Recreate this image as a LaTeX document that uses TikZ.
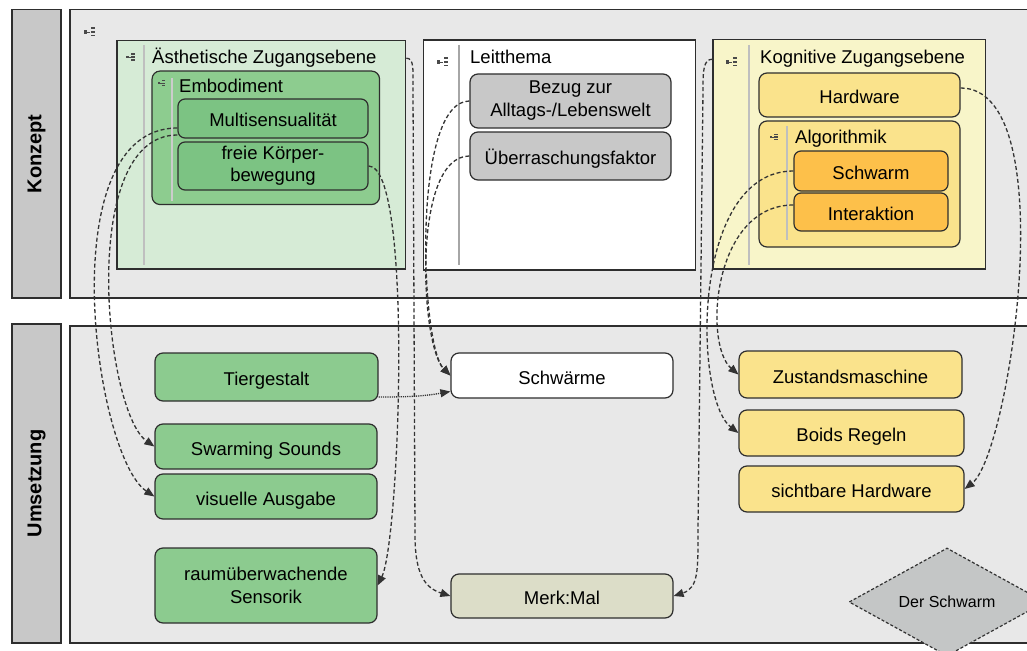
\documentclass[tikz,border=0pt]{standalone}
\usepackage{fontspec}
\setmainfont{Liberation Sans}
\usetikzlibrary{arrows.meta,shapes.geometric}

\definecolor{edge}{HTML}{2E2E2E}
\definecolor{linkcol}{HTML}{333333}
\definecolor{panelfill}{HTML}{E8E8E8}
\definecolor{barfill}{HTML}{C8C8C8}
\definecolor{aesfill}{HTML}{D6EBD6}
\definecolor{embfill}{HTML}{8DCC8F}
\definecolor{greenfill}{HTML}{7CC383}
\definecolor{actfill}{HTML}{8CCB8F}
\definecolor{grayfill}{HTML}{C8C8C8}
\definecolor{kogfill}{HTML}{F8F5C9}
\definecolor{yellowfill}{HTML}{FAE38C}
\definecolor{orangefill}{HTML}{FDC04A}
\definecolor{merkfill}{HTML}{DCDDC8}
\definecolor{diafill}{HTML}{C4C6C6}
\definecolor{iconcol}{HTML}{4A4A4A}

\begin{document}
\begin{tikzpicture}[x=1pt,y=-1pt,
  base/.style={font=\fontsize{18.5}{22}\selectfont, inner sep=0pt, text=black},
  frame/.style={draw=edge, line width=1.2pt},
  panel/.style={draw=edge, line width=1.5pt, fill=panelfill, inner sep=0pt},
  bar/.style={draw=edge, line width=1.5pt, fill=barfill, inner sep=0pt,
    font=\fontsize{20}{22}\selectfont\bfseries, rotate=90},
  container/.style={frame, inner sep=0pt},
  rbox/.style={base, frame, rounded corners=8pt, align=center},
  oneline/.style={text height=17pt, text depth=0pt},
  title/.style={base, anchor=base west},
  sep/.style={draw=black!35, line width=1.2pt},
  conn/.style={draw=linkcol, line width=1.3pt, dash pattern=on 4pt off 2.5pt,
    -{Triangle[length=10pt,width=8pt]}},
  dotconn/.style={draw=linkcol, line width=1.3pt, dash pattern=on 1.2pt off 1pt,
    -{Triangle[length=10pt,width=8pt]}},
  lsticon/.pic={
    \fill[iconcol] (-6,-1.6) rectangle (-2.8,1.6);
    \draw[iconcol, line width=0.6pt] (-2.8,0) -- (0,0);
    \fill[iconcol] (0.5,-4.5) rectangle (5,-3);
    \fill[iconcol] (0.5,-0.75) rectangle (5,0.75);
    \fill[iconcol] (0.5,3) rectangle (5,4.5);
  }
]
\useasboundingbox (0,0) rectangle (1027,650);
\clip (0,0) rectangle (1027,650);
\fill[white] (0,0) rectangle (1027,650);

% ---------- swimlanes ----------
\node[bar, minimum width=288.5pt, minimum height=49pt] (kbar) at (36.5,153.8) {Konzept};
\node[panel, minimum width=1000pt, minimum height=288.5pt] (kpanel) at (570,153.8) {};
\node[bar, minimum width=319pt, minimum height=49pt] (ubar) at (36.5,483.5) {Umsetzung};
\node[panel, minimum width=1000pt, minimum height=317pt] (upanel) at (570,484.5) {};
\pic at (90,32) {lsticon};

% ---------- aesthetic level ----------
\node[container, fill=aesfill, minimum width=288.7pt, minimum height=228.5pt] (aes) at (261.4,154.8) {};
\draw[sep, draw=black!25] (144,45) -- (144,265);
\pic[scale=0.8] at (131,57) {lsticon};
\node[title] (aesT) at (152,64) {Ästhetische Zugangsebene};

\node[container, fill=embfill, rounded corners=8pt, minimum width=227.5pt, minimum height=133.5pt] (emb) at (265.8,137.8) {};
\draw[sep, draw=black!20] (172,78) -- (172,201);
\pic[scale=0.6] at (162,83) {lsticon};
\node[title] (embT) at (179,93) {Embodiment};
\node[rbox, oneline, fill=greenfill, rounded corners=7pt, minimum width=190pt, minimum height=39pt] (multi) at (273,118.5) {Multisensualität};
\node[rbox, fill=greenfill, rounded corners=7pt, minimum width=190pt, minimum height=48pt, font=\fontsize{18.5}{22}\selectfont] (freie) at (273,166) {freie Körper-\\bewegung};

% ---------- guiding theme ----------
\node[container, fill=white, minimum width=272pt, minimum height=230pt] (leit) at (559.5,155) {};
\draw[sep] (459,45) -- (459,265);
\pic at (443,62) {lsticon};
\node[title] (leitT) at (470,64) {Leitthema};
\node[rbox, fill=grayfill, minimum width=201pt, minimum height=54pt, font=\fontsize{18.5}{23}\selectfont] (bezug) at (570.5,101) {Bezug zur\\Alltags-/Lebenswelt};
\node[rbox, oneline, fill=grayfill, minimum width=201pt, minimum height=48pt] (ueber) at (570.5,156) {Überraschungsfaktor};

% ---------- cognitive level ----------
\node[container, fill=kogfill, minimum width=272.5pt, minimum height=229.5pt] (kog) at (849.3,154.3) {};
\draw[sep, draw=black!25] (749,45) -- (749,265);
\pic at (732,62) {lsticon};
\node[title] (kogT) at (760,64) {Kognitive Zugangsebene};
\node[rbox, oneline, fill=yellowfill, minimum width=201pt, minimum height=44pt] (hw) at (859.5,95) {Hardware};
\node[container, fill=yellowfill, rounded corners=8pt, minimum width=201pt, minimum height=126pt] (algo) at (859.5,184) {};
\draw[sep, draw=black!25] (787,126) -- (787,240);
\pic[scale=0.75] at (774,137) {lsticon};
\node[title] (algoT) at (795,143) {Algorithmik};
\node[rbox, oneline, fill=orangefill, rounded corners=7pt, minimum width=154pt, minimum height=40pt] (schw) at (871,171) {Schwarm};
\node[rbox, oneline, fill=orangefill, rounded corners=7pt, minimum width=154pt, minimum height=38pt] (inter) at (871,212) {Interaktion};

% ---------- implementation ----------
\node[rbox, oneline, fill=actfill, minimum width=223pt, minimum height=48pt] (tier) at (266.5,377) {Tiergestalt};
\node[rbox, oneline, fill=actfill, minimum width=222pt, minimum height=45pt] (sounds) at (266,446.5) {Swarming Sounds};
\node[rbox, oneline, fill=actfill, minimum width=222pt, minimum height=45pt] (visu) at (266,496.5) {visuelle Ausgabe};
\node[rbox, fill=actfill, minimum width=222pt, minimum height=75pt, font=\fontsize{18.5}{23}\selectfont] (sensor) at (266,585.5) {raumüberwachende\\Sensorik};
\node[rbox, oneline, fill=white, minimum width=222pt, minimum height=45pt] (schwm) at (562,375.5) {Schwärme};
\node[rbox, oneline, fill=merkfill, minimum width=222pt, minimum height=44pt] (merk) at (562,596) {Merk:Mal};
\node[rbox, oneline, fill=yellowfill, minimum width=223pt, minimum height=47pt] (zust) at (850.5,374.5) {Zustandsmaschine};
\node[rbox, oneline, fill=yellowfill, minimum width=225pt, minimum height=46pt] (boids) at (851.5,433) {Boids Regeln};
\node[rbox, oneline, fill=yellowfill, minimum width=225pt, minimum height=46pt] (sicht) at (851.5,489) {sichtbare Hardware};

\node[diamond, draw=linkcol, line width=1.2pt, dash pattern=on 3pt off 2pt, fill=diafill,
  minimum width=196pt, minimum height=108pt, aspect=1.81, inner sep=0pt,
  font=\fontsize{16}{19}\selectfont] (ds) at (947,602) {Der Schwarm};

% ---------- connectors ----------
\draw[conn] ([yshift=-9.5pt]multi.west) .. controls +(-128,0) and +(-60,-40) .. (visu.west);
\draw[conn] ([yshift=-16.5pt]multi.west) .. controls +(-100,0) and +(-50,-35) .. (sounds.west);
\draw[conn] (freie.east) .. controls +(45,0) and +(22,-45) .. (sensor.east);
\draw[conn] (aesT -| aes.east) .. controls +(8,0) and +(0,-20) .. (413,90)
  -- (415,535) .. controls +(0,40) and +(-25,-8) .. (merk.west);
\draw[conn] (bezug.west) .. controls +(-58,0) and +(-30,-30) .. (schwm.west);
\draw[conn] (ueber.west) .. controls +(-58,0) and +(-30,-30) .. (schwm.west);
\draw[dotconn] ([yshift=-20pt]tier.east) to[out=0,in=190] ([yshift=-16pt]schwm.west);
\draw[conn] (kogT -| kog.west) .. controls +(-9,0) and +(0,-20) .. (703,90)
  -- (698,530) .. controls +(0,40) and +(25,-8) .. (merk.east);
\draw[conn] (schw.west) .. controls +(-103,0) and +(-45,-35) .. (boids.west);
\draw[conn] ([yshift=7pt]inter.west) .. controls +(-81,0) and +(-35,-30) .. (zust.west);
\draw[conn] ([yshift=7pt]hw.east) .. controls +(104,0) and +(45,-35) .. (sicht.east);
\end{tikzpicture}
\end{document}
